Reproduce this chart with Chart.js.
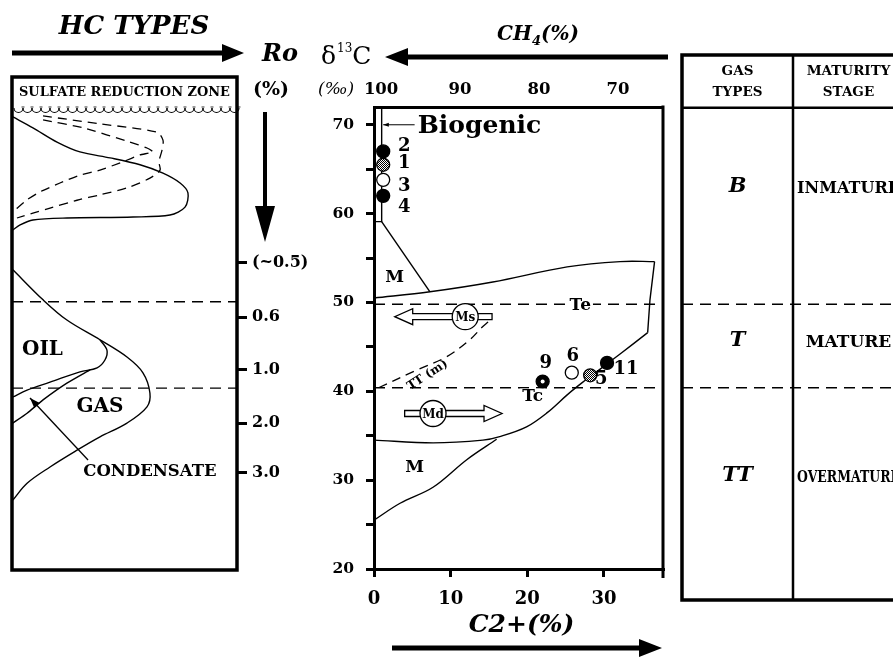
<!DOCTYPE html>
<html lang="en">
<head>
<meta charset="utf-8">
<title>Gas types from δ13C and C2+</title>
<script src="https://cdn.jsdelivr.net/npm/chart.js@4.4.1/dist/chart.umd.min.js"></script>
<style>
  html, body { margin: 0; padding: 0; background: #fff; }
  #page { position: relative; width: 893px; height: 658px; overflow: hidden; }
  #page canvas { position: absolute; top: 0; }
  #hc-chart { left: 0; }
  #iso-chart { left: 300px; }
  #type-chart { left: 670px; }
</style>
</head>
<body>
<div id="page">
  <canvas id="iso-chart" width="380" height="658"></canvas>
  <canvas id="hc-chart" width="312" height="658"></canvas>
  <canvas id="type-chart" width="240" height="658"></canvas>
</div>
<script>
const SERIF = '"DejaVu Serif", "Liberation Serif", serif';

/* ---------- centre plot: δ13C (‰) against C2+ (%) ---------- */
const sampleIds  = ['2', '1', '3', '4', '9', '6', '5', '11'];
const sampleC2   = [1.2, 1.2, 1.2, 1.2, 22.0, 25.8, 28.2, 30.4];
const sampleD13C = [67.0, 65.5, 63.8, 62.0, 41.1, 42.1, 41.8, 43.2];
const sampleKind = ['solid', 'hatched', 'open', 'solid', 'ring', 'open', 'hatched', 'solid'];

const c2Ticks    = [0, 10, 20, 30];
const ch4Ticks   = [100, 90, 80, 70];
const d13cTicks  = [20, 25, 30, 35, 40, 45, 50, 55, 60, 65, 70];
const d13cLabels = ['20', '', '30', '', '40', '', '50', '', '60', '', '70'];

// biogenic window and the M wedge below it
const bioEdgeC2 = [1.0, 1.0, 0];
const bioEdgeD  = [72, 59.1, 59.1];
const wedgeC2   = [1.0, 7.3];
const wedgeD    = [59.1, 51.2];
// upper limit of the thermogenic field
const teTopC2  = [0, 7.3, 15.5, 25.2, 32.1, 36.6];
const teTopD   = [50.5, 51.2, 52.3, 54.0, 54.6, 54.6];
const teSideC2 = [36.6, 36.0, 35.7];
const teSideD  = [54.6, 50.3, 46.6];
// lower limit of the thermogenic field
const tcBaseC2 = [35.7, 32.1, 29.5, 27.2, 25.2, 22.6, 19.9, 16.4, 14.2, 7.7, 0];
const tcBaseD  = [46.6, 44.2, 42.5, 41.0, 39.6, 37.6, 36.0, 34.9, 34.5, 34.2, 34.5];
// mixing limit of the lower M field
const mLowC2 = [0, 3.4, 7.7, 12.1, 16.0];
const mLowD  = [25.5, 27.4, 29.2, 32.3, 34.6];
// TT(m) trend
const ttmC2 = [0.6, 5.6, 9.5, 12.5, 14.2, 14.9];
const ttmD  = [40.4, 42.4, 43.9, 45.8, 47.3, 47.8];
// maturity stage limits in δ13C
const stageLimitsD = [49.8, 40.4];

const fieldNames = ['M', 'M', 'Te', 'Tc'];
const fieldC2    = [2.7, 5.3, 26.9, 20.7];
const fieldD     = [52.8, 31.4, 49.7, 39.4];

/* ---------- left panel: hydrocarbon generation with burial ---------- */
// amount is relative (0-100 across the panel), depth runs 0 (top) to 100 (base)
const bioGasAmount = [0.4, 9.3, 20, 30.2, 43.6, 56.9, 67.1, 74.7, 78.2, 76.9, 70.2, 53.8, 24.4, 9.3, 3.6, 0.4];
const bioGasDepth  = [8.1, 10.3, 13.2, 15.2, 16.4, 17.8, 19.5, 21.5, 23.5, 26.4, 28.0, 28.4, 28.6, 29.0, 30.0, 31.0];
const earlyOuterAmount = [13.8, 39.1, 64.4, 67.1, 66.7, 65.3, 65.8, 61.3, 51.1, 39.1, 28.9, 16.9, 9.3, 2.2];
const earlyOuterDepth  = [7.9, 9.5, 11.2, 12.8, 14.8, 17.2, 18.9, 20.5, 22.5, 23.9, 25.0, 26.6, 27.6, 28.6];
const earlyInnerAmount = [13.8, 31.6, 52.4, 60.0, 62.7, 56.9, 49.3, 39.1, 30.2, 21.3, 12.4, 6.7, 1.3];
const earlyInnerDepth  = [8.7, 10.3, 13.2, 14.4, 15.2, 15.8, 17.2, 18.9, 19.9, 21.5, 23.3, 24.9, 27.0];
const gasAmount = [0.4, 13.8, 24.4, 39.1, 51.1, 58.2, 61.3, 60.0, 51.1, 39.1, 28.9, 16.9, 6.7, 0.4];
const gasDepth  = [39.1, 45.2, 49.3, 53.3, 56.8, 60.0, 64.1, 66.9, 70.2, 73.0, 75.7, 79.1, 82.4, 85.8];
const oilAmount = [39.1, 42.2, 41.3, 37.8, 30.2, 16.9, 6.7, 0.4];
const oilDepth  = [53.3, 55.4, 57.4, 59.0, 59.8, 61.9, 63.5, 64.9];
const condAmount = [34.7, 24.4, 13.8, 6.7, 0.4];
const condDepth  = [59.4, 62.1, 65.5, 68.2, 70.2];
const stageLimitsDepth = [45.6, 63.1];

const roDepth  = [37.7, 48.7, 59.4, 70.2, 80.3];
const roLabels = ['(~0.5)', '0.6', '1.0', '2.0', '3.0'];

const zoneNames  = ['OIL', 'GAS', 'CONDENSATE'];
const zoneAmount = [13.5, 39.1, 61.3];
const zoneDepth  = [55.4, 66.9, 80.1];

/* ---------- right panel: gas type and maturity ---------- */
const gasTypes       = ['B', 'T', 'TT'];
const maturityStages = ['INMATURE', 'MATURE', 'OVERMATURE'];
const rowLabelD      = [63.0, 45.7, 30.5];
const headerD        = 71.9;

// shared δ13C scale: 8.885 px per ‰ on every panel
const D_MIN = 20, D_MAX = 72;

const pts = (xs, ys) => xs.map((x, i) => ({ x, y: ys[i] }));

function curve(xs, ys, extra) {
  return Object.assign({
    data: pts(xs, ys), showLine: true, borderColor: '#000', borderWidth: 1.4,
    pointRadius: 0, pointHoverRadius: 0, tension: 0.35, order: 2
  }, extra);
}

function blockArrow(ctx, x0, y0, x1, y1, shaft, headLen, headHalf, hollow) {
  const ang = Math.atan2(y1 - y0, x1 - x0);
  const len = Math.hypot(x1 - x0, y1 - y0);
  ctx.save();
  ctx.translate(x0, y0);
  ctx.rotate(ang);
  ctx.beginPath();
  ctx.moveTo(0, -shaft / 2);
  ctx.lineTo(len - headLen, -shaft / 2);
  ctx.lineTo(len - headLen, -headHalf);
  ctx.lineTo(len, 0);
  ctx.lineTo(len - headLen, headHalf);
  ctx.lineTo(len - headLen, shaft / 2);
  ctx.lineTo(0, shaft / 2);
  ctx.closePath();
  if (hollow) {
    ctx.fillStyle = '#fff';
    ctx.fill();
    ctx.lineWidth = 1.3;
    ctx.strokeStyle = '#000';
    ctx.stroke();
  } else {
    ctx.fillStyle = '#000';
    ctx.fill();
  }
  ctx.restore();
}

function thinArrow(ctx, x0, y0, x1, y1, head) {
  const ang = Math.atan2(y1 - y0, x1 - x0);
  ctx.beginPath();
  ctx.moveTo(x0, y0);
  ctx.lineTo(x1, y1);
  ctx.stroke();
  ctx.beginPath();
  ctx.moveTo(x1, y1);
  ctx.lineTo(x1 - head * Math.cos(ang - 0.35), y1 - head * Math.sin(ang - 0.35));
  ctx.lineTo(x1 - head * Math.cos(ang + 0.35), y1 - head * Math.sin(ang + 0.35));
  ctx.closePath();
  ctx.fill();
}

function makeHatch() {
  const c = document.createElement('canvas');
  c.width = c.height = 2;
  const g = c.getContext('2d');
  g.fillStyle = '#fff';
  g.fillRect(0, 0, 2, 2);
  g.fillStyle = '#000';
  g.fillRect(0, 0, 1, 1);
  g.fillRect(1, 1, 1, 1);
  return g.createPattern(c, 'repeat');
}

const commonOpts = {
  responsive: false,
  animation: false,
  devicePixelRatio: 1,
  events: [],
  plugins: { legend: { display: false }, tooltip: { enabled: false } }
};

/* ---------- centre chart ---------- */
const hatch = makeHatch();
const kindFill = { solid: '#000', hatched: hatch, open: '#fff', ring: '#000' };
const markerSets = Object.keys(kindFill).map(kind => {
  const idx = sampleKind.map((k, i) => (k === kind ? i : -1)).filter(i => i >= 0);
  return {
    data: idx.map(i => ({ x: sampleC2[i], y: sampleD13C[i] })),
    pointRadius: 6.5, pointHoverRadius: 6.5,
    pointBackgroundColor: kindFill[kind], pointBorderColor: '#000', pointBorderWidth: 1.3,
    showLine: false, order: 0
  };
});
// white centre on the ringed sample
const ringIdx = sampleKind.map((k, i) => (k === 'ring' ? i : -1)).filter(i => i >= 0);
markerSets.push({
  data: ringIdx.map(i => ({ x: sampleC2[i], y: sampleD13C[i] })),
  pointRadius: 2, pointBackgroundColor: '#fff', pointBorderWidth: 0, showLine: false, order: -1
});

const idOffset = { '2': [21, -5], '1': [21, -1], '3': [21, 6], '4': [21, 11],
                   '9': [3, -18], '6': [1, -16], '5': [11, 4], '11': [19, 6] };

const bold = size => ({ family: SERIF, size, weight: 'bold' });

const isoDecor = {
  id: 'isoDecor',
  afterDatasetsDraw(chart) {
    const { ctx, chartArea: a } = chart;
    const x = chart.scales.x, y = chart.scales.y;
    const px = v => x.getPixelForValue(v), py = v => y.getPixelForValue(v);
    ctx.save();
    ctx.strokeStyle = '#000';
    ctx.fillStyle = '#000';

    // right edge of the frame, dropping just below the base line
    ctx.lineWidth = 3;
    ctx.beginPath();
    ctx.moveTo(a.right, a.top - 1.5);
    ctx.lineTo(a.right, a.bottom + 9);
    ctx.stroke();

    // sample numbers
    ctx.font = `bold 18px ${SERIF}`;
    ctx.textAlign = 'center';
    ctx.textBaseline = 'middle';
    sampleIds.forEach((id, i) => {
      const [dx, dy] = idOffset[id];
      ctx.fillText(id, px(sampleC2[i]) + dx, py(sampleD13C[i]) + dy);
    });

    // field names, knocked out of the dashed limits where they sit on them
    ctx.font = `bold 17px ${SERIF}`;
    fieldNames.forEach((name, i) => {
      const cx = px(fieldC2[i]), cy = py(fieldD[i]);
      if (name !== 'M') {
        const w = ctx.measureText(name).width;
        ctx.fillStyle = '#fff';
        ctx.fillRect(cx - w / 2 - 2, cy - 8, w + 4, 16);
        ctx.fillStyle = '#000';
      }
      ctx.fillText(name, cx, cy);
    });

    // Biogenic label with its pointer to the window
    ctx.font = `bold 25px ${SERIF}`;
    ctx.textAlign = 'left';
    ctx.fillText('Biogenic', px(5.7), py(69.8));
    ctx.lineWidth = 1;
    thinArrow(ctx, px(5.3), py(70.0), px(1.2), py(70.0), 6);

    // mixing arrows: Ms toward the biogenic end, Md toward the thermogenic end
    blockArrow(ctx, px(15.4), py(48.4), px(2.7), py(48.4), 6, 18, 8, true);
    blockArrow(ctx, px(4.0), py(37.5), px(16.7), py(37.5), 6, 18, 8, true);
    [['Ms', 11.9, 48.4], ['Md', 7.7, 37.5]].forEach(([t, c2, d]) => {
      ctx.beginPath();
      ctx.arc(px(c2), py(d), 13, 0, Math.PI * 2);
      ctx.fillStyle = '#fff';
      ctx.fill();
      ctx.lineWidth = 1.3;
      ctx.stroke();
      ctx.fillStyle = '#000';
      ctx.font = `bold 12px ${SERIF}`;
      ctx.textAlign = 'center';
      ctx.fillText(t, px(c2), py(d) + 1);
    });

    // TT(m) trend name along its dashed line
    ctx.save();
    ctx.translate(px(7.0), py(41.8));
    ctx.rotate(-33 * Math.PI / 180);
    ctx.font = `bold 12px ${SERIF}`;
    ctx.fillText('TT (m)', 0, 0);
    ctx.restore();
    ctx.restore();
  },
  afterDraw(chart) {
    const { ctx, chartArea: a } = chart;
    ctx.save();
    ctx.fillStyle = '#000';
    ctx.textBaseline = 'alphabetic';
    ctx.textAlign = 'left';

    // δ13C heading
    let cx = 21;
    ctx.font = `25px ${SERIF}`;
    ctx.fillText('δ', cx, 64);
    cx += ctx.measureText('δ').width + 1;
    ctx.font = `12px ${SERIF}`;
    ctx.fillText('13', cx, 52);
    cx += ctx.measureText('13').width;
    ctx.font = `25px ${SERIF}`;
    ctx.fillText('C', cx, 64);

    // per mil unit
    ctx.font = `italic 17px ${SERIF}`;
    ctx.fillText('(‰)', 18, 94);

    // CH4 heading and arrow pointing back toward pure methane
    const ch4 = [['CH', 20, 0], ['4', 13, 5], ['(%)', 20, 0]];
    let w = 0;
    ch4.forEach(([t, s]) => { ctx.font = `bold italic ${s}px ${SERIF}`; w += ctx.measureText(t).width; });
    cx = 238 - w / 2;
    ch4.forEach(([t, s, dy]) => {
      ctx.font = `bold italic ${s}px ${SERIF}`;
      ctx.fillText(t, cx, 40 + dy);
      cx += ctx.measureText(t).width;
    });
    blockArrow(ctx, 368, 57, 85, 57, 5, 23, 9, false);

    // C2+ title and arrow
    ctx.font = `bold italic 25px ${SERIF}`;
    ctx.textAlign = 'center';
    ctx.fillText('C2+(%)', (a.left + a.right) / 2 + 3, 632);
    blockArrow(ctx, 92, 648, 362, 648, 5, 23, 9, false);
    ctx.restore();
  }
};

new Chart(document.getElementById('iso-chart'), {
  type: 'scatter',
  data: {
    datasets: [
      ...markerSets,
      curve(bioEdgeC2, bioEdgeD, { tension: 0 }),
      curve(wedgeC2, wedgeD, { tension: 0 }),
      curve(teTopC2, teTopD),
      curve(teSideC2, teSideD, { tension: 0 }),
      curve(tcBaseC2, tcBaseD),
      curve(mLowC2, mLowD),
      curve(ttmC2, ttmD, { borderDash: [9, 6], borderWidth: 1.3 }),
      ...stageLimitsD.map(d => curve([0, 37.7], [d, d], { tension: 0, borderDash: [11, 7], borderWidth: 1.4 }))
    ]
  },
  options: Object.assign({}, commonOpts, {
    layout: { padding: { left: 0, right: 17, top: 0, bottom: 0 } },
    scales: {
      x: {
        type: 'linear', position: 'bottom', min: 0, max: 37.7,
        afterBuildTicks: s => { s.ticks = c2Ticks.map(value => ({ value })); },
        ticks: { autoSkip: false, maxRotation: 0, color: '#000', font: bold(18), padding: 12 },
        grid: { drawOnChartArea: false, tickLength: 8, lineWidth: 3, color: '#000' },
        border: { color: '#000', width: 3 },
        afterFit: s => { s.height = 89; }
      },
      x2: {
        type: 'linear', position: 'top', reverse: true, min: 64.3, max: 100.9,
        afterBuildTicks: s => { s.ticks = ch4Ticks.map(value => ({ value })); },
        ticks: { autoSkip: false, maxRotation: 0, color: '#000', font: bold(16.5), padding: 7 },
        grid: { drawOnChartArea: false, drawTicks: false },
        border: { color: '#000', width: 3 },
        afterFit: s => { s.height = 107; }
      },
      y: {
        type: 'linear', position: 'left', min: D_MIN, max: D_MAX,
        afterBuildTicks: s => { s.ticks = d13cTicks.map(value => ({ value })); },
        ticks: { autoSkip: false, color: '#000', font: bold(15.5), padding: 12,
                 callback: (v, i) => d13cLabels[i] },
        grid: { drawOnChartArea: false, tickLength: 8, lineWidth: 3, color: '#000' },
        border: { color: '#000', width: 3 },
        afterFit: s => { s.width = 74; }
      }
    }
  }),
  plugins: [isoDecor]
});

/* ---------- left chart ---------- */
const hcDecor = {
  id: 'hcDecor',
  afterDatasetsDraw(chart) {
    const { ctx, chartArea: a } = chart;
    const x = chart.scales.x, y = chart.scales.y;
    const px = v => x.getPixelForValue(v), py = v => y.getPixelForValue(v);
    ctx.save();
    ctx.fillStyle = '#000';
    ctx.strokeStyle = '#000';

    // sulfate reduction zone heading and scalloped base
    ctx.font = `bold 13.5px ${SERIF}`;
    ctx.textAlign = 'center';
    ctx.textBaseline = 'middle';
    ctx.fillText('SULFATE REDUCTION ZONE', (a.left + a.right) / 2, a.top + 15, a.right - a.left - 14);
    const wy = a.top + 34;
    ctx.lineWidth = 1.1;
    for (let sx = a.left + 2; sx < a.right - 4; sx += 9) {
      ctx.beginPath();
      ctx.arc(sx + 4.5, wy - 3, 4.5, Math.PI, 0, true);
      ctx.stroke();
      ctx.fillStyle = '#999';
      ctx.fillRect(sx + 7.5, wy - 5, 3, 2);
    }

    // zone names
    ctx.fillStyle = '#000';
    zoneNames.forEach((n, i) => {
      ctx.font = `bold ${n === 'CONDENSATE' ? 16.5 : 20}px ${SERIF}`;
      ctx.fillText(n, px(zoneAmount[i]), py(zoneDepth[i]));
    });
    ctx.lineWidth = 1.3;
    thinArrow(ctx, px(33.8), py(77.7), px(8.0), py(65.1), 11);

    // panel frame
    ctx.lineWidth = 3.5;
    ctx.strokeRect(a.left, a.top, a.right - a.left, a.bottom - a.top);
    ctx.restore();
  },
  afterDraw(chart) {
    const { ctx } = chart;
    ctx.save();
    ctx.fillStyle = '#000';
    ctx.textAlign = 'center';
    ctx.textBaseline = 'middle';
    ctx.font = `bold italic 26px ${SERIF}`;
    ctx.fillText('HC TYPES', 134, 27);
    blockArrow(ctx, 12, 53, 244, 53, 5, 22, 9, false);
    ctx.font = `bold italic 24px ${SERIF}`;
    ctx.fillText('Ro', 280, 55);
    ctx.font = `bold 19px ${SERIF}`;
    ctx.fillText('(%)', 271, 90);
    blockArrow(ctx, 265, 112, 265, 242, 4, 36, 10, false);
    ctx.restore();
  }
};

new Chart(document.getElementById('hc-chart'), {
  type: 'scatter',
  data: {
    datasets: [
      curve(bioGasAmount, bioGasDepth, { tension: 0.3 }),
      curve(earlyOuterAmount, earlyOuterDepth, { tension: 0.3, borderDash: [9, 6], borderWidth: 1.3 }),
      curve(earlyInnerAmount, earlyInnerDepth, { tension: 0.15, borderDash: [9, 6], borderWidth: 1.3 }),
      curve(gasAmount, gasDepth, { tension: 0.35 }),
      curve(oilAmount, oilDepth, { tension: 0.35 }),
      curve(condAmount, condDepth, { tension: 0.2 }),
      ...stageLimitsDepth.map(d => curve([0, 100], [d, d], { tension: 0, borderDash: [11, 7], borderWidth: 1.4 }))
    ]
  },
  options: Object.assign({}, commonOpts, {
    layout: { padding: { left: 12, right: 0, top: 77, bottom: 88 } },
    scales: {
      x: { type: 'linear', min: 0, max: 100, display: false },
      y: { type: 'linear', min: 0, max: 100, reverse: true, display: false },
      ro: {
        type: 'linear', position: 'right', min: 0, max: 100, reverse: true,
        afterBuildTicks: s => { s.ticks = roDepth.map(value => ({ value })); },
        ticks: { autoSkip: false, color: '#000', font: bold(16), padding: 5,
                 callback: (v, i) => roLabels[i] },
        grid: { drawOnChartArea: false, tickLength: 10, lineWidth: 3, color: '#000' },
        border: { display: false },
        afterFit: s => { s.width = 75; }
      }
    }
  }),
  plugins: [hcDecor]
});

/* ---------- right chart ---------- */
const typeDecor = {
  id: 'typeDecor',
  afterDatasetsDraw(chart) {
    const { ctx, chartArea: a } = chart;
    const x = chart.scales.x, y = chart.scales.y;
    const px = v => x.getPixelForValue(v), py = v => y.getPixelForValue(v);
    ctx.save();
    ctx.fillStyle = '#000';
    ctx.strokeStyle = '#000';
    ctx.lineWidth = 3.5;
    ctx.strokeRect(a.left, a.top, a.right - a.left, a.bottom - a.top);

    ctx.textAlign = 'center';
    ctx.textBaseline = 'middle';
    const hMid = (a.top + py(headerD)) / 2;
    ctx.font = `bold 13.5px ${SERIF}`;
    [['GAS', 'TYPES'], ['MATURITY', 'STAGE']].forEach((lines, c) => {
      ctx.fillText(lines[0], px(c + 0.5), hMid - 10);
      ctx.fillText(lines[1], px(c + 0.5), hMid + 11);
    });
    gasTypes.forEach((t, i) => {
      ctx.font = `bold italic 21px ${SERIF}`;
      ctx.fillText(t, px(0.5), py(rowLabelD[i]));
      ctx.font = `bold 17px ${SERIF}`;
      ctx.fillText(maturityStages[i], px(1.5), py(rowLabelD[i]) + 2, px(2) - px(1) - 8);
    });
    ctx.restore();
  }
};

new Chart(document.getElementById('type-chart'), {
  type: 'scatter',
  data: {
    datasets: [
      curve([0, 2], [headerD, headerD], { tension: 0, borderWidth: 2.5 }),
      curve([1, 1], [16.51, 77.85], { tension: 0, borderWidth: 2.5 }),
      ...stageLimitsD.map(d => curve([0, 2], [d, d], { tension: 0, borderDash: [11, 7], borderWidth: 1.4 }))
    ]
  },
  options: Object.assign({}, commonOpts, {
    layout: { padding: { left: 12, right: 6, top: 55, bottom: 58 } },
    scales: {
      x: { type: 'linear', min: 0, max: 2, display: false },
      y: { type: 'linear', min: 16.51, max: 77.85, display: false }
    }
  }),
  plugins: [typeDecor]
});
</script>
</body>
</html>
